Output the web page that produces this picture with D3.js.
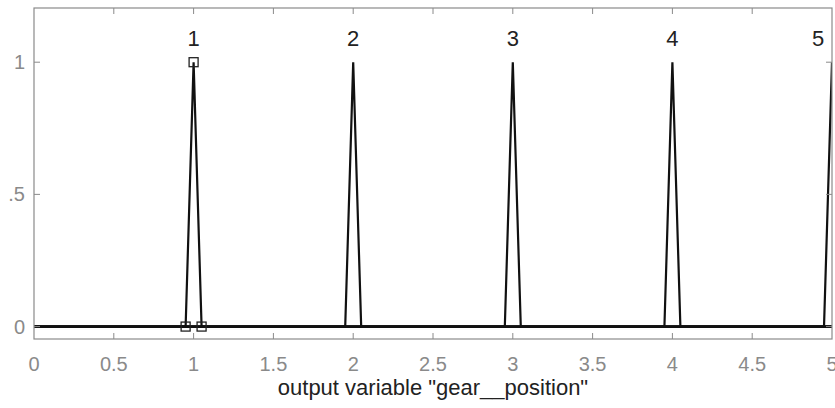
<!DOCTYPE html>
<html>
<head>
<meta charset="utf-8">
<script src="https://cdn.jsdelivr.net/npm/d3@7"></script>
<style>
    body { margin: 0; background: #fff; }
    svg { display: block; font-family: Arial, "Liberation Sans", sans-serif; }
</style>
</head>
<body>
<div class="container"><svg width="835" height="408"></svg></div>
<script>
// membership functions of output "gear__position" (triangles [a b c])
var mfNames = ["1", "2", "3", "4", "5"]
var mfParams = [
    [0.95, 1, 1.05],
    [1.95, 2, 2.05],
    [2.95, 3, 3.05],
    [3.95, 4, 4.05],
    [4.95, 5, 5.05]
]
var xTicks = [0, 0.5, 1, 1.5, 2, 2.5, 3, 3.5, 4, 4.5, 5]
var xTickLabels = ["0", "0.5", "1", "1.5", "2", "2.5", "3", "3.5", "4", "4.5", "5"]
var yTicks = [0, 0.5, 1]
var yTickLabels = ["0", ".5", "1"]
var selected = 0 // mf shown with square handles
var xLabel = 'output variable "gear__position"'

function draw_chart() {
    var svg = d3.select(".container").select("svg");
    var left = 34, right = 832, top = 8, bottom = 339;

    var x = d3.scaleLinear().domain([0, 5]).range([left, right]);
    var y = d3.scaleLinear().domain([-0.047, 1.205]).range([bottom, top]);

    svg.append("defs").append("clipPath").attr("id", "plotclip")
        .append("rect")
        .attr("x", left).attr("y", top)
        .attr("width", right - left).attr("height", bottom - top);

    // each mf drawn over the whole range, like plotmf
    var line = d3.line().x(function (d) { return x(d[0]); }).y(function (d) { return y(d[1]); });
    var g = svg.append("g").attr("clip-path", "url(#plotclip)");
    g.selectAll("path.mf")
        .data(mfParams)
        .enter().append("path")
        .attr("class", "mf")
        .attr("d", function (p) {
            return line([[0, 0], [p[0], 0], [p[1], 1], [p[2], 0], [5.1, 0]]);
        })
        .attr("fill", "none")
        .attr("stroke", "#111")
        .attr("stroke-width", 2.2)
        .attr("stroke-linejoin", "miter");

    // square handles on the selected mf
    var sel = mfParams[selected];
    g.selectAll("rect.handle")
        .data([[sel[0], 0], [sel[1], 1], [sel[2], 0]])
        .enter().append("rect")
        .attr("class", "handle")
        .attr("x", function (d) { return x(d[0]) - 4.5; })
        .attr("y", function (d) { return y(d[1]) - 4.5; })
        .attr("width", 9).attr("height", 9)
        .attr("fill", "none")
        .attr("stroke", "#222")
        .attr("stroke-width", 1.3);

    // axes box
    svg.append("rect")
        .attr("x", left).attr("y", top)
        .attr("width", right - left).attr("height", bottom - top)
        .attr("fill", "none")
        .attr("stroke", "#8a8a8a")
        .attr("stroke-width", 1.2);

    var tickColor = "#8a8a8a";
    // x ticks, bottom and top, pointing inward
    xTicks.forEach(function (t) {
        if (t === 0 || t === 5) return;
        svg.append("line").attr("x1", x(t)).attr("x2", x(t))
            .attr("y1", bottom).attr("y2", bottom - 6)
            .attr("stroke", tickColor);
        svg.append("line").attr("x1", x(t)).attr("x2", x(t))
            .attr("y1", top).attr("y2", top + 6)
            .attr("stroke", tickColor);
    });
    // y ticks, left and right
    yTicks.forEach(function (t) {
        svg.append("line").attr("x1", left).attr("x2", left + 6)
            .attr("y1", y(t)).attr("y2", y(t))
            .attr("stroke", tickColor);
        svg.append("line").attr("x1", right).attr("x2", right - 6)
            .attr("y1", y(t)).attr("y2", y(t))
            .attr("stroke", tickColor);
    });

    svg.selectAll("text.xtick")
        .data(xTicks)
        .enter().append("text")
        .attr("class", "xtick")
        .attr("x", function (d) { return x(d); })
        .attr("y", 371)
        .attr("text-anchor", "middle")
        .attr("font-size", 20)
        .attr("fill", "#8a8a8a")
        .text(function (d, i) { return xTickLabels[i]; });

    svg.selectAll("text.ytick")
        .data(yTicks)
        .enter().append("text")
        .attr("class", "ytick")
        .attr("x", 25)
        .attr("y", function (d) { return y(d); })
        .attr("dy", "0.35em")
        .attr("text-anchor", "end")
        .attr("font-size", 20)
        .attr("fill", "#8a8a8a")
        .text(function (d, i) { return yTickLabels[i]; });

    // mf names above the peaks
    svg.selectAll("text.mfname")
        .data(mfParams)
        .enter().append("text")
        .attr("class", "mfname")
        .attr("x", function (p) { return Math.min(x(p[1]), right - 14); })
        .attr("y", 46)
        .attr("text-anchor", "middle")
        .attr("font-size", 22)
        .attr("fill", "#222")
        .text(function (p, i) { return mfNames[i]; });

    svg.append("text")
        .attr("x", (left + right) / 2)
        .attr("y", 395)
        .attr("text-anchor", "middle")
        .attr("font-size", 22)
        .attr("fill", "#222")
        .text(xLabel);
}

draw_chart();
</script>
</body>
</html>
